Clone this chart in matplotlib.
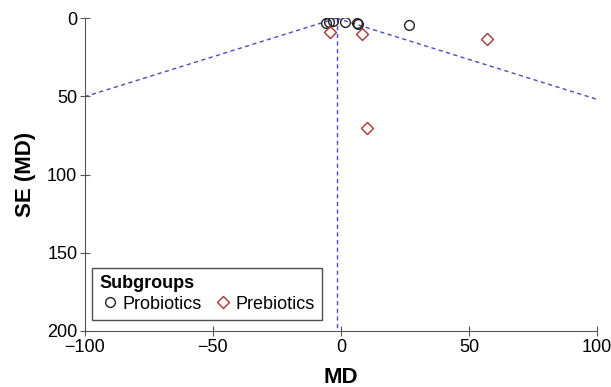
import matplotlib
matplotlib.use("Agg")
import matplotlib.pyplot as plt
import numpy as np

plt.rcParams['font.family'] = ['Liberation Sans', 'DejaVu Sans']

pro_md = [-5.9, -4.6, -3.0, 1.6, 6.1, 6.6, 26.7]
pro_se = [2.9, 2.3, 1.8, 2.3, 2.9, 4.0, 4.5]
pre_md = [-4.3, 8.1, 10.0, 57.0]
pre_se = [9.0, 10.3, 70.3, 13.2]
pooled_md = -1.7

fig = plt.figure(figsize=(6.11, 3.87), dpi=100)
ax = fig.add_axes([0.139, 0.145, 0.838, 0.808])

blue = '#4a4ac4'
se_line = np.array([0, 60])
ax.plot(pooled_md - 1.96 * se_line, se_line, ls=(0, (3, 2.5)), color=blue, lw=1, zorder=1)
ax.plot(pooled_md + 1.96 * se_line, se_line, ls=(0, (3, 2.5)), color=blue, lw=1, zorder=1)
ax.plot([pooled_md, pooled_md], [0, 200], ls=(0, (3, 2.5)), color=blue, lw=1, zorder=1)

ax.plot(pro_md, pro_se, 'o', mfc='none', mec='#222222', ms=7, mew=1, label='Probiotics', zorder=3)
ax.plot(pre_md, pre_se, 'D', mfc='none', mec='#b03030', ms=6.5, mew=1, label='Prebiotics', zorder=3)

ax.set_xlim(-100, 100)
ax.set_ylim(200, 0)
ax.set_xticks([-100, -50, 0, 50, 100])
ax.set_xticklabels(['\u2212100', '\u221250', '0', '50', '100'])
ax.set_yticks([0, 50, 100, 150, 200])
ax.spines['top'].set_visible(False)
ax.spines['right'].set_visible(False)
for s in ('left', 'bottom'):
    ax.spines[s].set_color('#555555')
ax.tick_params(axis='both', labelsize=13, color='#555555', direction='inout', length=7, pad=2)
ax.set_xlabel('MD', fontsize=16, fontweight='bold', labelpad=8)
ax.set_ylabel('SE (MD)', fontsize=16, fontweight='bold', labelpad=8)

leg = ax.legend(loc='lower left', ncol=2, title='Subgroups', fontsize=13,
                title_fontproperties={'weight': 'bold', 'size': 13},
                frameon=True, fancybox=False, edgecolor='#222222',
                handletextpad=0.1, columnspacing=0.55, handlelength=1.2,
                borderpad=0.4, labelspacing=0.2, borderaxespad=0,
                bbox_to_anchor=(0.0137, 0.035))
leg._legend_box.align = 'left'
leg.get_frame().set_linewidth(1)

fig.savefig('out.png', dpi=100)
